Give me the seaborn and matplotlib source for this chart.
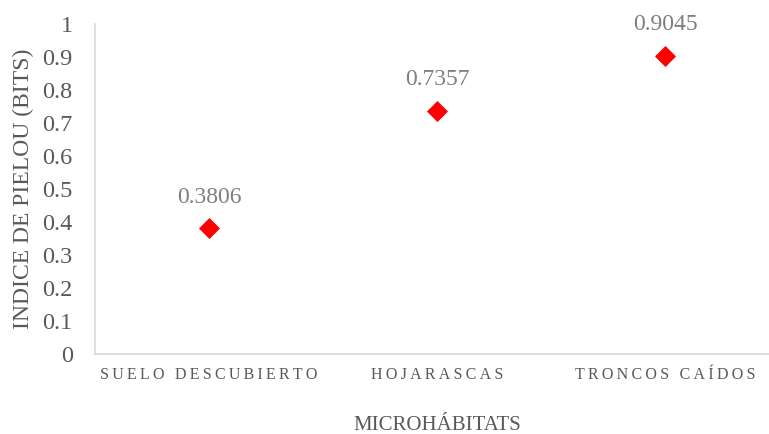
import pandas as pd
import matplotlib.pyplot as plt
import seaborn as sns

categories = ['SUELO DESCUBIERTO', 'HOJARASCAS', 'TRONCOS CAÍDOS']
pielou = [0.3806, 0.7357, 0.9045]
value_labels = ['0.3806', '0.7357', '0.9045']
y_ticks = [0, 0.1, 0.2, 0.3, 0.4, 0.5, 0.6, 0.7, 0.8, 0.9, 1]
y_tick_labels = ['0', '0.1', '0.2', '0.3', '0.4', '0.5', '0.6', '0.7', '0.8', '0.9', '1']

df = pd.DataFrame({'Microhabitat': categories, 'Pielou': pielou})

sns.set_style('white')
plt.rcParams['font.family'] = ['Liberation Serif', 'DejaVu Serif']

fig = plt.figure(figsize=(7.69, 4.34), dpi=100)
ax = fig.add_axes([0.1235, 0.1843, 0.8895, 0.7604])

sns.scatterplot(data=df, x='Microhabitat', y='Pielou', marker='D', s=115,
                color='#ff0000', edgecolor='#ff0000', linewidth=0, ax=ax, zorder=3)

for i, (v, lab) in enumerate(zip(pielou, value_labels)):
    ax.annotate(lab, (i, v), xytext=(0, 15), textcoords='offset points',
                ha='center', va='bottom', fontsize=17, color='#7f7f7f')

ax.set_xlim(-0.5, 2.5)
ax.set_ylim(0, 1)
ax.set_yticks(y_ticks)
ax.set_yticklabels(y_tick_labels, fontsize=17.5, color='#595959')


def spaced(text):
    # Excel-style letter spacing on the category labels
    return '\u2009'.join(text)


ax.set_xticks(range(len(categories)))
ax.set_xticklabels([spaced(c) for c in categories], fontsize=11.5, color='#595959')
ax.tick_params(axis='both', length=0)
ax.tick_params(axis='x', pad=9)
ax.tick_params(axis='y', pad=16)

ax.set_xlabel('MICROHÁBITATS', fontsize=15, color='#595959', labelpad=24)
ax.set_ylabel('INDICE DE PIELOU (BITS)', fontsize=17, color='#595959', labelpad=6)

for side in ['top', 'right']:
    ax.spines[side].set_visible(False)
for side in ['left', 'bottom']:
    ax.spines[side].set_color('#d9d9d9')
    ax.spines[side].set_linewidth(1.2)

fig.savefig('out.png', dpi=100)
